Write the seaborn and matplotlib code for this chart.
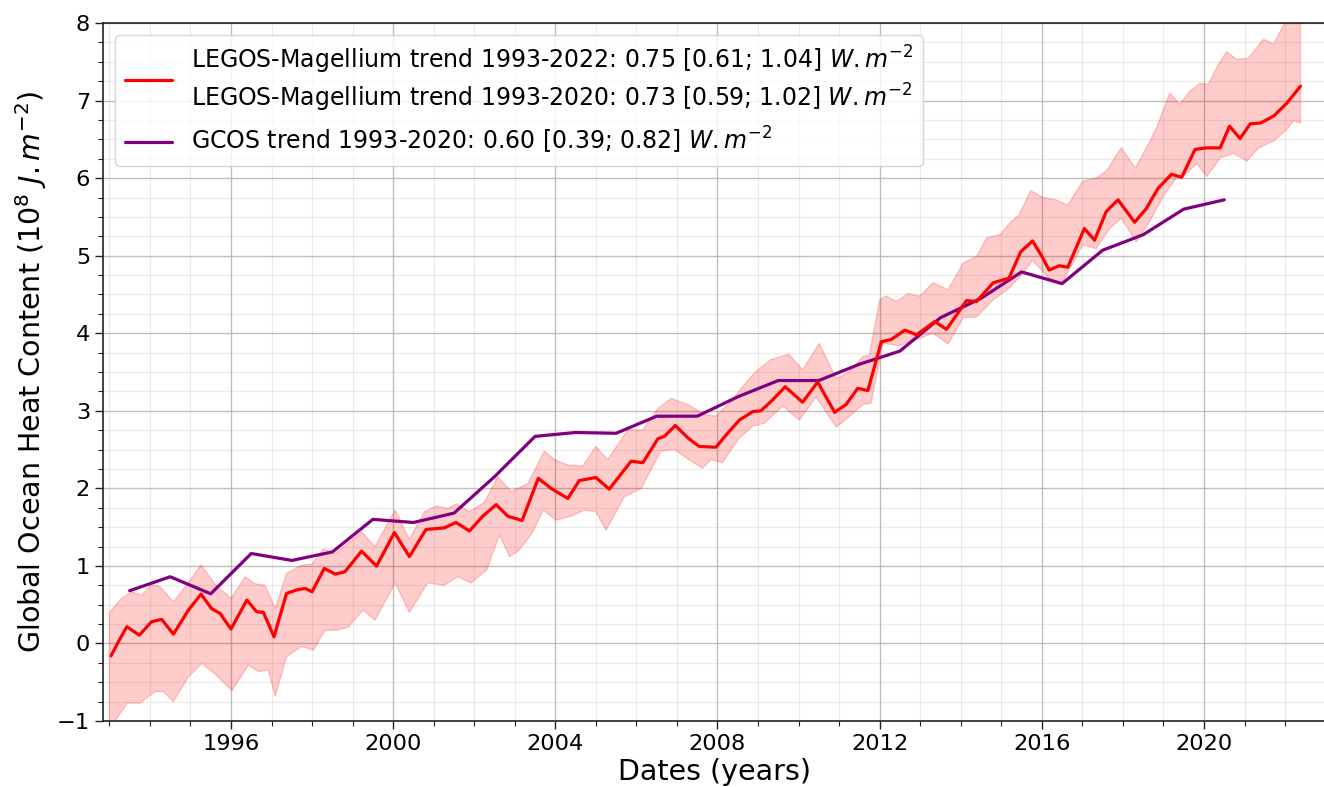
import numpy as np
import pandas as pd
import matplotlib
matplotlib.use("Agg")
import matplotlib.pyplot as plt
import seaborn as sns
from matplotlib.ticker import MultipleLocator

# ---------------- data ----------------
legos_years = [1993.04, 1993.22, 1993.43, 1993.74, 1994.04, 1994.29, 1994.58, 1994.95, 1995.26, 1995.52,
               1995.73, 1996.00, 1996.39, 1996.63, 1996.80, 1997.06, 1997.37, 1997.62, 1997.83, 1998.00,
               1998.30, 1998.57, 1998.81, 1999.22, 1999.59, 2000.03, 2000.40, 2000.81, 2001.26, 2001.55,
               2001.88, 2002.21, 2002.54, 2002.83, 2003.18, 2003.58, 2003.89, 2004.31, 2004.59, 2005.00,
               2005.33, 2005.87, 2006.16, 2006.53, 2006.69, 2006.96, 2007.27, 2007.55, 2007.96, 2008.25,
               2008.54, 2008.87, 2009.07, 2009.36, 2009.67, 2010.10, 2010.47, 2010.89, 2011.17, 2011.46,
               2011.71, 2011.92, 2012.04, 2012.29, 2012.62, 2012.91, 2013.36, 2013.65, 2014.14, 2014.39,
               2014.80, 2015.19, 2015.48, 2015.77, 2015.98, 2016.18, 2016.43, 2016.64, 2017.05, 2017.30,
               2017.59, 2017.88, 2018.29, 2018.58, 2018.87, 2019.20, 2019.45, 2019.78, 2020.07, 2020.40,
               2020.63, 2020.89, 2021.14, 2021.39, 2021.72, 2022.05, 2022.38]
legos_mean = [-0.16, 0.02, 0.215, 0.107, 0.28, 0.31, 0.12, 0.43, 0.636, 0.45,
              0.387, 0.185, 0.559, 0.41, 0.40, 0.086, 0.645, 0.69, 0.71, 0.666,
              0.967, 0.894, 0.924, 1.19, 0.997, 1.43, 1.12, 1.47, 1.49, 1.56,
              1.45, 1.64, 1.79, 1.64, 1.585, 2.13, 2.00, 1.87, 2.10, 2.14,
              1.99, 2.35, 2.33, 2.64, 2.67, 2.81, 2.65, 2.54, 2.53, 2.71,
              2.88, 2.99, 3.00, 3.14, 3.31, 3.11, 3.37, 2.98, 3.08, 3.29,
              3.26, 3.66, 3.89, 3.92, 4.04, 3.98, 4.15, 4.05, 4.42, 4.41,
              4.65, 4.71, 5.05, 5.19, 5.01, 4.815, 4.87, 4.85, 5.35, 5.20,
              5.57, 5.72, 5.43, 5.61, 5.87, 6.05, 6.01, 6.37, 6.39, 6.39,
              6.67, 6.51, 6.70, 6.71, 6.80, 6.97, 7.185]

upper_years = [1993.00, 1993.30, 1993.55, 1993.80, 1994.04, 1994.25, 1994.58, 1994.87, 1995.26, 1995.60,
               1996.00, 1996.35, 1996.59, 1996.84, 1997.09, 1997.37, 1997.74, 1997.99, 1998.28, 1998.57,
               1998.89, 1999.22, 1999.55, 2000.05, 2000.40, 2000.77, 2001.06, 2001.35, 2001.55, 2001.88,
               2002.25, 2002.58, 2002.91, 2003.32, 2003.73, 2003.98, 2004.31, 2004.68, 2005.00, 2005.29,
               2005.79, 2006.16, 2006.53, 2006.86, 2007.27, 2007.68, 2007.96, 2008.33, 2008.62, 2008.95,
               2009.32, 2009.76, 2010.10, 2010.51, 2010.93, 2011.26, 2011.59, 2011.75, 2012.00, 2012.16,
               2012.41, 2012.70, 2012.99, 2013.32, 2013.69, 2014.06, 2014.39, 2014.64, 2014.97, 2015.19,
               2015.44, 2015.73, 2016.02, 2016.35, 2016.64, 2017.01, 2017.34, 2017.59, 2017.96, 2018.31,
               2018.66, 2018.83, 2019.16, 2019.40, 2019.65, 2019.90, 2020.11, 2020.36, 2020.56, 2020.81,
               2021.10, 2021.47, 2021.72, 2021.97, 2022.38]
upper_vals = [0.40, 0.58, 0.666, 0.623, 0.76, 0.73, 0.537, 0.73, 1.01, 0.77,
              0.58, 0.86, 0.77, 0.75, 0.45, 0.90, 1.01, 1.02, 1.22, 1.16,
              1.29, 1.44, 1.25, 1.72, 1.34, 1.70, 1.77, 1.74, 1.80, 1.70,
              1.82, 2.15, 1.96, 2.06, 2.48, 2.37, 2.30, 2.29, 2.54, 2.37,
              2.755, 2.755, 3.03, 3.16, 3.08, 2.95, 2.93, 3.12, 3.31, 3.51,
              3.66, 3.73, 3.53, 3.87, 3.41, 3.51, 3.70, 3.72, 4.43, 4.48,
              4.41, 4.51, 4.48, 4.65, 4.56, 4.905, 4.99, 5.23, 5.27, 5.41,
              5.53, 5.84, 5.75, 5.72, 5.65, 5.96, 6.00, 6.09, 6.39, 6.13,
              6.47, 6.65, 7.10, 6.95, 7.12, 7.22, 7.21, 7.47, 7.63, 7.53,
              7.55, 7.79, 7.73, 7.98, 8.60]

lower_years = [1993.00, 1993.20, 1993.45, 1993.75, 1994.13, 1994.33, 1994.58, 1994.95, 1995.28, 1995.60,
               1996.02, 1996.43, 1996.67, 1996.92, 1997.09, 1997.37, 1997.74, 1998.03, 1998.32, 1998.60,
               1998.89, 1999.26, 1999.55, 2000.05, 2000.40, 2000.85, 2001.26, 2001.59, 2001.92, 2002.31,
               2002.62, 2002.87, 2003.10, 2003.45, 2003.70, 2004.02, 2004.39, 2004.72, 2005.00, 2005.25,
               2005.70, 2006.12, 2006.60, 2006.94, 2007.35, 2007.63, 2007.84, 2008.12, 2008.54, 2008.87,
               2009.15, 2009.61, 2010.02, 2010.43, 2010.93, 2011.26, 2011.59, 2011.79, 2012.08, 2012.49,
               2012.91, 2013.32, 2013.69, 2014.06, 2014.39, 2014.80, 2015.19, 2015.50, 2015.77, 2016.18,
               2016.47, 2017.01, 2017.34, 2017.67, 2017.96, 2018.33, 2018.66, 2018.99, 2019.32, 2019.57,
               2019.82, 2020.07, 2020.40, 2020.73, 2021.06, 2021.35, 2021.72, 2022.05, 2022.21, 2022.38]
lower_vals = [-1.15, -0.95, -0.77, -0.77, -0.62, -0.62, -0.75, -0.43, -0.26, -0.39,
              -0.61, -0.28, -0.365, -0.34, -0.68, -0.17, -0.04, -0.086, 0.17, 0.17,
              0.21, 0.43, 0.30, 0.78, 0.40, 0.78, 0.75, 0.86, 0.78, 0.95,
              1.40, 1.12, 1.20, 1.44, 1.72, 1.59, 1.64, 1.72, 1.70, 1.46,
              1.89, 2.00, 2.48, 2.50, 2.35, 2.26, 2.37, 2.33, 2.65, 2.80,
              2.84, 3.06, 2.88, 3.18, 2.79, 2.93, 3.08, 3.10, 3.87, 3.84,
              3.92, 4.00, 3.86, 4.20, 4.21, 4.43, 4.58, 4.75, 4.94, 4.71,
              4.62, 5.14, 5.09, 5.35, 5.48, 5.18, 5.44, 5.76, 6.00, 6.06,
              6.19, 6.02, 6.26, 6.32, 6.22, 6.39, 6.48, 6.63, 6.74, 6.71]

gcos_years = [1993.5, 1994.5, 1995.5, 1996.5, 1997.5, 1998.5, 1999.5, 2000.5, 2001.5, 2002.5,
              2003.5, 2004.5, 2005.5, 2006.5, 2007.5, 2008.5, 2009.5, 2010.5, 2011.5, 2012.5,
              2013.5, 2014.5, 2015.5, 2016.5, 2017.5, 2018.5, 2019.5, 2020.5]
gcos_vals = [0.68, 0.86, 0.64, 1.16, 1.07, 1.18, 1.60, 1.56, 1.68, 2.15,
             2.67, 2.72, 2.71, 2.93, 2.93, 3.18, 3.39, 3.39, 3.60, 3.77,
             4.20, 4.45, 4.79, 4.64, 5.07, 5.27, 5.60, 5.72]

legos_label = ("LEGOS-Magellium trend 1993-2022: 0.75 [0.61; 1.04] $W.m^{-2}$\n"
               "LEGOS-Magellium trend 1993-2020: 0.73 [0.59; 1.02] $W.m^{-2}$")
gcos_label = "GCOS trend 1993-2020: 0.60 [0.39; 0.82] $W.m^{-2}$"
x_label = "Dates (years)"
y_label = r"Global Ocean Heat Content ($10^8\ J.m^{-2}$)"
x_ticks = [1996, 2000, 2004, 2008, 2012, 2016, 2020]
y_ticks = [-1, 0, 1, 2, 3, 4, 5, 6, 7, 8]

# ---------------- plot ----------------
sns.set_style("white")
plt.rcParams['font.family'] = ['DejaVu Sans']
for k in ("text.color", "axes.labelcolor", "xtick.color", "ytick.color"):
    plt.rcParams[k] = "black"

W, H = 1324, 787
fig = plt.figure(figsize=(W / 100, H / 100), dpi=100)
ax = fig.add_axes([103.3 / W, 66 / H, (1325.6 - 103.3) / W, (721 - 23) / H])

band_x = np.concatenate([upper_years, lower_years[::-1]])
band_y = np.concatenate([upper_vals, lower_vals[::-1]])
ax.fill(band_x, band_y, color="red", alpha=0.2, lw=1, zorder=2)

legos_df = pd.DataFrame({"year": legos_years, "ohc": legos_mean})
gcos_df = pd.DataFrame({"year": gcos_years, "ohc": gcos_vals})
sns.lineplot(data=legos_df, x="year", y="ohc", color="red", lw=2.3,
             label=legos_label, ax=ax, zorder=4, estimator=None)
sns.lineplot(data=gcos_df, x="year", y="ohc", color="purple", lw=2.3,
             label=gcos_label, ax=ax, zorder=3, estimator=None)

ax.set_xlim(1992.85, 2023.0)
ax.set_ylim(-1, 8)
ax.set_xticks(x_ticks)
ax.set_yticks(y_ticks)
ax.xaxis.set_minor_locator(MultipleLocator(1))
ax.yaxis.set_minor_locator(MultipleLocator(0.25))
ax.tick_params(which="major", length=6, width=1, labelsize=16.2, direction="out",
               bottom=True, left=True, color="#222222", labelcolor="black")
ax.tick_params(which="minor", length=3.5, width=0.8, bottom=True, left=True, color="#222222")
ax.grid(which="major", color="#b0b0b0", lw=1.0, alpha=0.8)
ax.grid(which="minor", color="#b0b0b0", lw=0.8, alpha=0.25)
ax.set_axisbelow(True)
for s in ax.spines.values():
    s.set_color("#222222")
    s.set_linewidth(1.2)

ax.set_xlabel(x_label, fontsize=20.5, color="black", labelpad=3)
ax.set_ylabel(y_label, fontsize=20.5, color="black", labelpad=6)
leg = ax.legend(loc="upper left", fontsize=17, framealpha=0.8)
for t in leg.get_texts():
    t.set_color("black")

fig.savefig("out.png", dpi=100)
